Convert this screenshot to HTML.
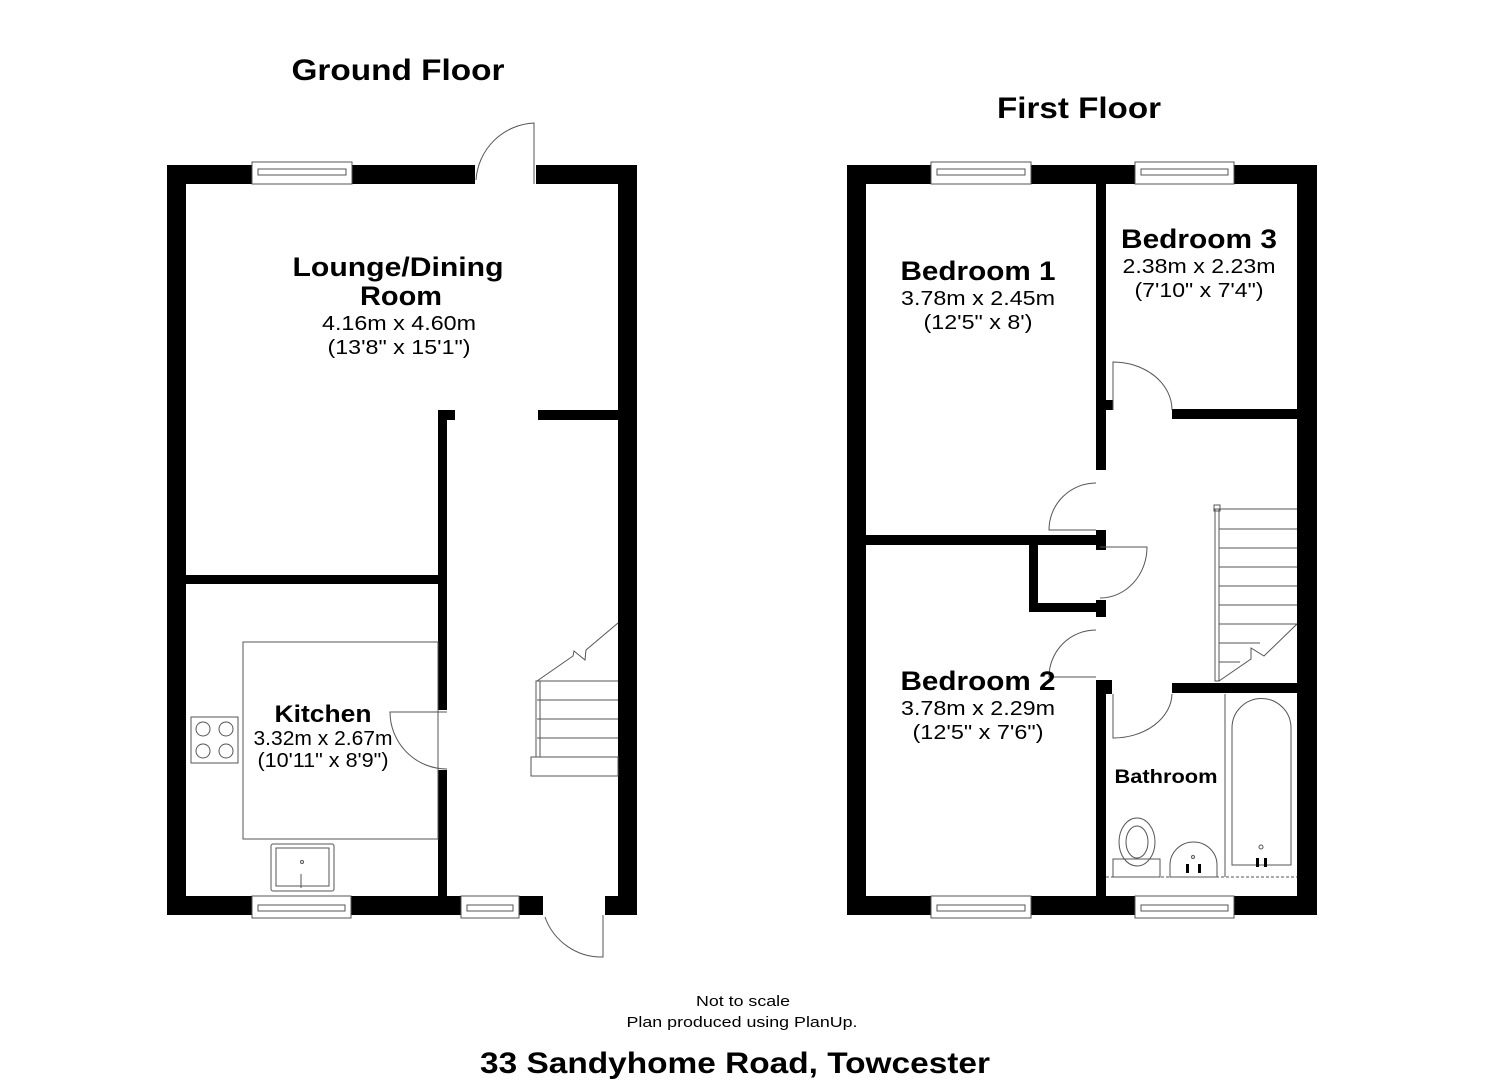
<!DOCTYPE html>
<html><head><meta charset="utf-8"><style>
html,body{margin:0;padding:0;background:#fff;}
svg{display:block}
text{font-family:"Liberation Sans",Arial,sans-serif;fill:#000}
.b{font-weight:bold}
</style></head><body>
<svg width="1485" height="1080" viewBox="0 0 1485 1080" xmlns="http://www.w3.org/2000/svg">
<g fill="#000">
<rect x="167" y="165" width="19" height="750"/>
<rect x="618" y="165" width="19" height="750"/>
<rect x="167" y="165" width="308" height="19"/>
<rect x="536" y="165" width="101" height="19"/>
<rect x="167" y="896" width="376" height="19"/>
<rect x="605" y="896" width="32" height="19"/>
<rect x="438" y="410" width="17" height="10"/>
<rect x="538" y="410" width="80" height="10"/>
<rect x="438" y="410" width="9" height="300"/>
<rect x="438" y="770" width="9" height="130"/>
<rect x="186" y="575" width="261" height="9"/>
<rect x="847" y="165" width="19" height="750"/>
<rect x="1297" y="165" width="20" height="750"/>
<rect x="847" y="165" width="470" height="19"/>
<rect x="847" y="896" width="470" height="19"/>
<rect x="1096" y="184" width="10" height="286"/>
<rect x="1106" y="400" width="7" height="10"/>
<rect x="1172" y="409" width="125" height="10"/>
<rect x="866" y="535" width="240" height="10"/>
<rect x="1096" y="530" width="10" height="20"/>
<rect x="1029" y="535" width="9" height="77"/>
<rect x="1029" y="603" width="77" height="9"/>
<rect x="1096" y="600" width="10" height="17"/>
<rect x="1096" y="680" width="10" height="220"/>
<rect x="1106" y="680" width="6" height="14"/>
<rect x="1172" y="683" width="125" height="10"/>
</g>
<g fill="#fff" stroke="#555" stroke-width="1">
<rect x="252" y="162" width="100" height="22"/>
<rect x="252" y="896" width="99" height="22"/>
<rect x="461" y="896" width="58" height="22"/>
<rect x="931" y="162" width="100" height="22"/>
<rect x="1135" y="162" width="99" height="22"/>
<rect x="931" y="896" width="100" height="22"/>
<rect x="1135" y="896" width="99" height="22"/>
</g>
<g fill="none" stroke="#555" stroke-width="1">
<rect x="258" y="169" width="88" height="6"/>
<rect x="258" y="905" width="87" height="6"/>
<rect x="467" y="905" width="46" height="6"/>
<rect x="937" y="169" width="88" height="6"/>
<rect x="1141" y="169" width="87" height="6"/>
<rect x="937" y="905" width="88" height="6"/>
<rect x="1141" y="905" width="87" height="6"/>
<path d="M534 184 V123 A61 61 0 0 0 476 180"/>
<path d="M447 712 H390 A57 57 0 0 0 447 769"/>
<path d="M603 915 V957 A60 60 0 0 1 545 917"/>
<rect x="243" y="642" width="195" height="197"/>
<rect x="191" y="717" width="47" height="46"/>
<circle cx="203" cy="729" r="7"/><circle cx="226" cy="729" r="7"/>
<circle cx="203" cy="751" r="7"/><circle cx="226" cy="751" r="7"/>
<rect x="271" y="844" width="63" height="47" rx="2"/>
<rect x="276" y="848" width="53" height="38"/>
<circle cx="302" cy="862" r="1.5"/>
<line x1="301" y1="874" x2="301" y2="888"/>
<path d="M537 681 H618 M537 700 H618 M537 719 H618 M537 738 H618 M537 757 H618"/>
<rect x="531" y="757" width="87" height="19"/>
<rect x="536" y="681" width="4" height="76"/>
<path d="M537 681 L573 656 L574 651 L585 660 L586 650 L618 623"/>
<path d="M1113 410 V362 A59 48 0 0 1 1172 410"/>
<path d="M1096 530 H1049 A47 47 0 0 1 1096 483"/>
<path d="M1100 547 H1147 A47 51 0 0 1 1100 598"/>
<path d="M1096 677 H1049 A47 47 0 0 1 1096 630"/>
<path d="M1113 694 V738 A59 45 0 0 0 1172 694"/>
<path d="M1219 509 H1297 M1219 529 H1297 M1219 548 H1297 M1219 567 H1297 M1219 586 H1297 M1219 605 H1297 M1219 624 H1297 M1219 643 H1260 M1219 662 H1240"/>
<rect x="1215" y="509" width="4" height="172"/>
<rect x="1214" y="505" width="6" height="6"/>
<path d="M1219 681 L1251 659 L1251 648 L1264 656 L1297 624"/>
<line x1="1225" y1="694" x2="1225" y2="877"/>
<path d="M1232 865 V728 A29.5 29.5 0 0 1 1291 728 V865 Z"/>
<circle cx="1261" cy="847" r="2"/>
<ellipse cx="1137" cy="842" rx="18" ry="24"/>
<ellipse cx="1137" cy="842" rx="11" ry="16"/>
<rect x="1113" y="859" width="47" height="18"/>
<path d="M1170 877 V865 A23.5 23 0 0 1 1217 865 V877 Z"/>
<circle cx="1193" cy="857" r="1.5"/>
<line x1="1106" y1="877" x2="1297" y2="877" stroke-dasharray="3 2"/>
</g>
<g fill="#000"><rect x="1186" y="864" width="3" height="9"/><rect x="1198" y="864" width="3" height="9"/>
<rect x="1256" y="858" width="3" height="9"/><rect x="1264" y="858" width="3" height="9"/></g>
<g text-anchor="middle" lengthAdjust="spacingAndGlyphs">
<text class="b" x="398" y="80" font-size="30" textLength="213" lengthAdjust="spacingAndGlyphs">Ground Floor</text>
<text class="b" x="1079" y="118" font-size="30" textLength="164" lengthAdjust="spacingAndGlyphs">First Floor</text>
<text class="b" x="398" y="276" font-size="27" textLength="211" lengthAdjust="spacingAndGlyphs">Lounge/Dining</text>
<text class="b" x="401" y="305" font-size="27" textLength="82" lengthAdjust="spacingAndGlyphs">Room</text>
<text x="399" y="330" font-size="20" textLength="154" lengthAdjust="spacingAndGlyphs">4.16m x 4.60m</text>
<text x="399" y="354" font-size="20" textLength="143" lengthAdjust="spacingAndGlyphs">(13'8" x 15'1")</text>
<text class="b" x="323" y="722" font-size="24" textLength="97" lengthAdjust="spacingAndGlyphs">Kitchen</text>
<text x="323" y="745" font-size="20" textLength="139" lengthAdjust="spacingAndGlyphs">3.32m x 2.67m</text>
<text x="323" y="767" font-size="20" textLength="131" lengthAdjust="spacingAndGlyphs">(10'11" x 8'9")</text>
<text class="b" x="978" y="280" font-size="27" textLength="155" lengthAdjust="spacingAndGlyphs">Bedroom 1</text>
<text x="978" y="305" font-size="20" textLength="154" lengthAdjust="spacingAndGlyphs">3.78m x 2.45m</text>
<text x="978" y="329" font-size="20" textLength="109" lengthAdjust="spacingAndGlyphs">(12'5" x 8')</text>
<text class="b" x="1199" y="248" font-size="27" textLength="156" lengthAdjust="spacingAndGlyphs">Bedroom 3</text>
<text x="1199" y="273" font-size="20" textLength="153" lengthAdjust="spacingAndGlyphs">2.38m x 2.23m</text>
<text x="1199" y="297" font-size="20" textLength="129" lengthAdjust="spacingAndGlyphs">(7'10" x 7'4")</text>
<text class="b" x="978" y="690" font-size="27" textLength="155" lengthAdjust="spacingAndGlyphs">Bedroom 2</text>
<text x="978" y="715" font-size="20" textLength="154" lengthAdjust="spacingAndGlyphs">3.78m x 2.29m</text>
<text x="978" y="739" font-size="20" textLength="131" lengthAdjust="spacingAndGlyphs">(12'5" x 7'6")</text>
<text class="b" x="1166" y="783" font-size="19" textLength="103" lengthAdjust="spacingAndGlyphs">Bathroom</text>
<text x="743" y="1006" font-size="15" textLength="94" lengthAdjust="spacingAndGlyphs">Not to scale</text>
<text x="742" y="1027" font-size="15" textLength="231" lengthAdjust="spacingAndGlyphs">Plan produced using PlanUp.</text>
<text class="b" x="735" y="1073" font-size="30" textLength="510" lengthAdjust="spacingAndGlyphs">33 Sandyhome Road, Towcester</text>
</g>
</svg>
</body></html>
